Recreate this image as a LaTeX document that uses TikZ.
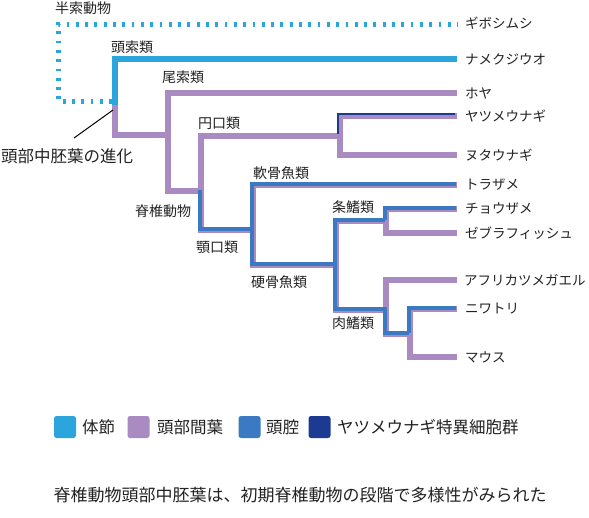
\documentclass[tikz,border=0pt]{standalone}
\usepackage{fontspec}
\setmainfont{Noto Sans CJK JP}
\definecolor{cseg}{HTML}{2CA5DC}
\definecolor{cmes}{HTML}{A98BC2}
\definecolor{ccav}{HTML}{3C79C3}
\definecolor{clam}{HTML}{1D3A92}
\definecolor{ctxt}{HTML}{222222}
\begin{document}
\begin{tikzpicture}[x=1pt,y=-1pt,line cap=butt,line join=miter,
  seg/.style={draw=cseg,line width=6.2pt},
  segdot/.style={draw=cseg,line width=5pt,dash pattern=on 2.8pt off 6.5pt},
  mes/.style={draw=cmes,line width=6.8pt},
  cav/.style={draw=ccav,line width=4.4pt,transform canvas={xshift=-1.3pt,yshift=1.3pt}},
  lam/.style={draw=clam,line width=2.2pt,transform canvas={xshift=-2.4pt,yshift=2.4pt}},
  leaf/.style={anchor=west,inner sep=0pt,text=ctxt,font=\fontsize{13.5pt}{16pt}\selectfont},
  clade/.style={anchor=west,inner sep=0pt,text=ctxt,font=\fontsize{14pt}{16pt}\selectfont},
  big/.style={inner sep=0pt,text=ctxt,font=\fontsize{16.5pt}{19pt}\selectfont},
  key/.style={draw=none,rounded corners=2.5pt,minimum width=22pt,minimum height=22pt,inner sep=0pt}]
\useasboundingbox (0,0) rectangle (589,517);
% inner nodes (junctions)
\coordinate (cHd) at (112,101);
\coordinate (cHc) at (58,24);
\coordinate (nSw) at (115,105);
\coordinate (nOl) at (168,135);
\coordinate (nVe) at (201,191);
\coordinate (nCy) at (340,136);
\coordinate (nGn) at (253,230);
\coordinate (nOs) at (336,265);
\coordinate (nAc) at (386,221);
\coordinate (nSa) at (386,310);
\coordinate (nAm) at (410,334);
% leaf ends
\coordinate (lGi) at (458,24);
\coordinate (lNa) at (457,59);
\coordinate (lHo) at (457,93);
\coordinate (lYa) at (457,116);
\coordinate (lNu) at (457,155);
\coordinate (lTo) at (457,185);
\coordinate (lCh) at (457,209);
\coordinate (lZe) at (457,233);
\coordinate (lAf) at (457,280);
\coordinate (lNi) at (457,309);
\coordinate (lMa) at (457,357);
% hemichordate (dotted)
\draw[segdot] (cHd) -| (cHc) -- (lGi);
% somites
\draw[seg] (lNa) -| (nSw);
% head mesenchyme
\draw[mes] (nSw) |- (nOl);
\draw[mes] (lHo) -| (nOl) |- (nVe);
\draw[mes] (nCy) -| (nVe) |- (nGn);
\draw[mes] (lYa) -| (nCy) |- (lNu);
\draw[mes] (lTo) -| (nGn) |- (nOs);
\draw[mes] (nAc) -| (nOs) |- (nSa);
\draw[mes] (lCh) -| (nAc) |- (lZe);
\draw[mes] (lAf) -| (nSa) |- (nAm);
\draw[mes] (lNi) -| (nAm) |- (lMa);
% head cavities
\draw[cav] (nVe) |- (nGn);
\draw[cav] (lTo) -| (nGn) |- (nOs);
\draw[cav] (nAc) -| (nOs) |- (nSa) |- (nAm);
\draw[cav] (lCh) -| (nAc);
\draw[cav] (nAm) |- (lNi);
% lamprey-specific cells
\draw[lam] (nCy) |- (lYa);
% leaf labels
\node[leaf] (tGi) at (465,23) {ギボシムシ};
\node[leaf] (tNa) at (465,59) {ナメクジウオ};
\node[leaf] (tHo) at (465,93) {ホヤ};
\node[leaf] (tYa) at (465,116) {ヤツメウナギ};
\node[leaf] (tNu) at (465,155) {ヌタウナギ};
\node[leaf] (tTo) at (465,185) {トラザメ};
\node[leaf] (tCh) at (465,209) {チョウザメ};
\node[leaf] (tZe) at (465,233) {ゼブラフィッシュ};
\node[leaf] (tAf) at (464,280) {アフリカツメガエル};
\node[leaf] (tNi) at (465,309) {ニワトリ};
\node[leaf] (tMa) at (465,357) {マウス};
% clade labels
\node[clade] (kHe) at (55,8) {半索動物};
\node[clade] (kCe) at (111,47) {頭索類};
\node[clade] (kUr) at (162,77) {尾索類};
\node[clade] (kCy) at (198,123) {円口類};
\node[clade] (kVe) at (135,211) {脊椎動物};
\node[clade] (kGn) at (196,247) {顎口類};
\node[clade] (kCo) at (253,173) {軟骨魚類};
\node[clade] (kOs) at (251,282) {硬骨魚類};
\node[clade] (kAc) at (332,207) {条鰭類};
\node[clade] (kSa) at (332,323) {肉鰭類};
% annotation
\node[big,anchor=west] (ann) at (1,156) {頭部中胚葉の進化};
\coordinate (annEnd) at (113,110);
\draw[black,line width=1pt] (74,138) -- (annEnd);
% legend
\node[key,fill=cseg] (k1) at (65,427) {};
\node[big,anchor=west] (k1t) at (82,427) {体節};
\node[key,fill=cmes] (k2) at (138.5,427) {};
\node[big,anchor=west] (k2t) at (157,427) {頭部間葉};
\node[key,fill=ccav] (k3) at (249.5,427) {};
\node[big,anchor=west] (k3t) at (266,427) {頭腔};
\node[key,fill=clam] (k4) at (319.5,427) {};
\node[big,anchor=west] (k4t) at (337,427) {ヤツメウナギ特異細胞群};
% caption
\node[inner sep=0pt,text=ctxt,font=\fontsize{17pt}{20pt}\selectfont] (cap) at (300,495) {脊椎動物頭部中胚葉は、初期脊椎動物の段階で多様性がみられた};
\end{tikzpicture}
\end{document}
